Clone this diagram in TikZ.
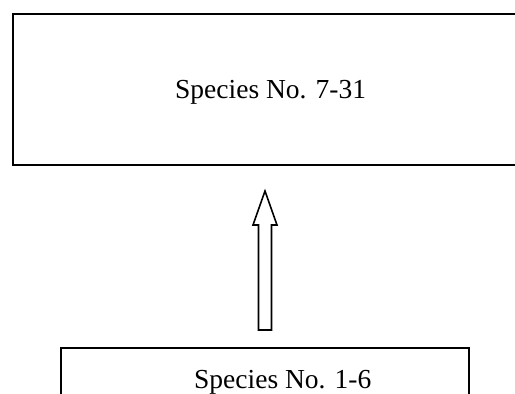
\documentclass[tikz,border=0pt]{standalone}
\usepackage{fontspec}
\setmainfont{Liberation Serif}
\usetikzlibrary{calc}
\begin{document}
\begin{tikzpicture}[x=1pt,y=-1pt,
  box/.style={draw=black,line width=2pt,fill=none,inner sep=0pt,anchor=north west},
  label/.style={inner sep=0pt,anchor=base west,font=\fontsize{27.5}{33}\selectfont},
  blockarrow/.style={draw=black,line width=1.6pt,fill=white,line join=miter}]
\useasboundingbox (0,0) rectangle (515,394);
\clip (0,0) rectangle (515,394);
% upper group box (runs off the right edge)
\node[box,minimum width=512pt,minimum height=151pt] (upper) at (12,13) {};
\node[label] (uppertext) at (175,98) {Species No. 7-31};
% lower group box (runs off the bottom edge)
\node[box,minimum width=408pt,minimum height=80pt] (lower) at (60,347) {};
\node[label] (lowertext) at (194,388) {Species No. 1-6};
% hollow block arrow from the lower box up toward the upper box
\coordinate (tail) at ($(lower.north)+(0,-17)$);
\coordinate (gap) at ($(upper.south)+(0,25)$);
\coordinate (tip) at (tail |- gap);
\draw[blockarrow]
  ($(tail)+(-6.5,0)$) -- ($(tip)+(-6.5,34)$) -- ($(tip)+(-12,34)$) -- (tip)
  -- ($(tip)+(12,34)$) -- ($(tip)+(6.5,34)$) -- ($(tail)+(6.5,0)$) -- cycle;
\end{tikzpicture}
\end{document}
